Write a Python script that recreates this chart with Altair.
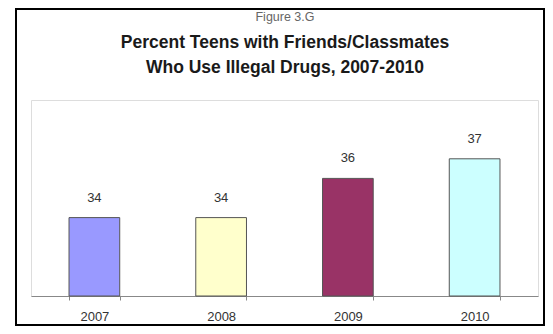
import altair as alt
import pandas as pd

years = ["2007", "2008", "2009", "2010"]
values = [34, 34, 36, 37]
colors = ["#9999FF", "#FFFFCC", "#993366", "#CCFFFF"]

fig_label = "Figure 3.G"
title_lines = ["Percent Teens with Friends/Classmates", "Who Use Illegal Drugs, 2007-2010"]

df = pd.DataFrame({"year": years, "value": values, "color": colors})

FONT = "Liberation Sans"

x_enc = alt.X(
    "year:N",
    sort=years,
    scale=alt.Scale(paddingInner=0.6, paddingOuter=0.3),
    axis=alt.Axis(
        title=None,
        labelAngle=0,
        tickBand="extent",
        tickSize=4,
        tickColor="#888888",
        domainColor="#888888",
        labelColor="#333333",
        labelFontSize=13,
        labelFont=FONT,
        labelPadding=10,
    ),
)
y_enc = alt.Y("value:Q", scale=alt.Scale(domain=[30, 40], nice=False, zero=False), axis=None)

bars = alt.Chart(df).mark_bar(stroke="#555555", strokeWidth=1).encode(
    x=x_enc,
    y=y_enc,
    y2=alt.datum(30),
    color=alt.Color("color:N", scale=None),
)

labels = alt.Chart(df).mark_text(
    baseline="bottom", dy=-13, fontSize=13, font=FONT, color="#333333"
).encode(x=alt.X("year:N", sort=years), y="value:Q", text="value:Q")

one = alt.Data(values=[{"a": 1}])

border = alt.Chart(one).mark_rect(
    filled=False, stroke="#000000", strokeWidth=2, clip=False
).encode(
    x=alt.value(-15), x2=alt.value(513), y=alt.value(-91), y2=alt.value(225)
)

fig_text = alt.Chart(one).mark_text(
    text=fig_label, font=FONT, fontSize=12.5, color="#666666", baseline="middle", align="center"
).encode(x=alt.value(254), y=alt.value(-83))

title1 = alt.Chart(one).mark_text(
    text=title_lines[0], font=FONT, fontSize=17.5, fontWeight="bold", color="#1a1a1a",
    baseline="middle", align="center"
).encode(x=alt.value(254), y=alt.value(-57))

title2 = alt.Chart(one).mark_text(
    text=title_lines[1], font=FONT, fontSize=17.5, fontWeight="bold", color="#1a1a1a",
    baseline="middle", align="center"
).encode(x=alt.value(254), y=alt.value(-32))

chart = alt.layer(border, fig_text, title1, title2, bars, labels).properties(
    width=507,
    height=196,
    autosize=alt.AutoSizeParams(type="none"),
    padding={"left": 23, "top": 92, "right": 7, "bottom": 30},
).configure_view(stroke="#cccccc", strokeWidth=1.5).configure(background="white")

chart.save("out.html", embed_options={"renderer": "svg", "actions": False})
